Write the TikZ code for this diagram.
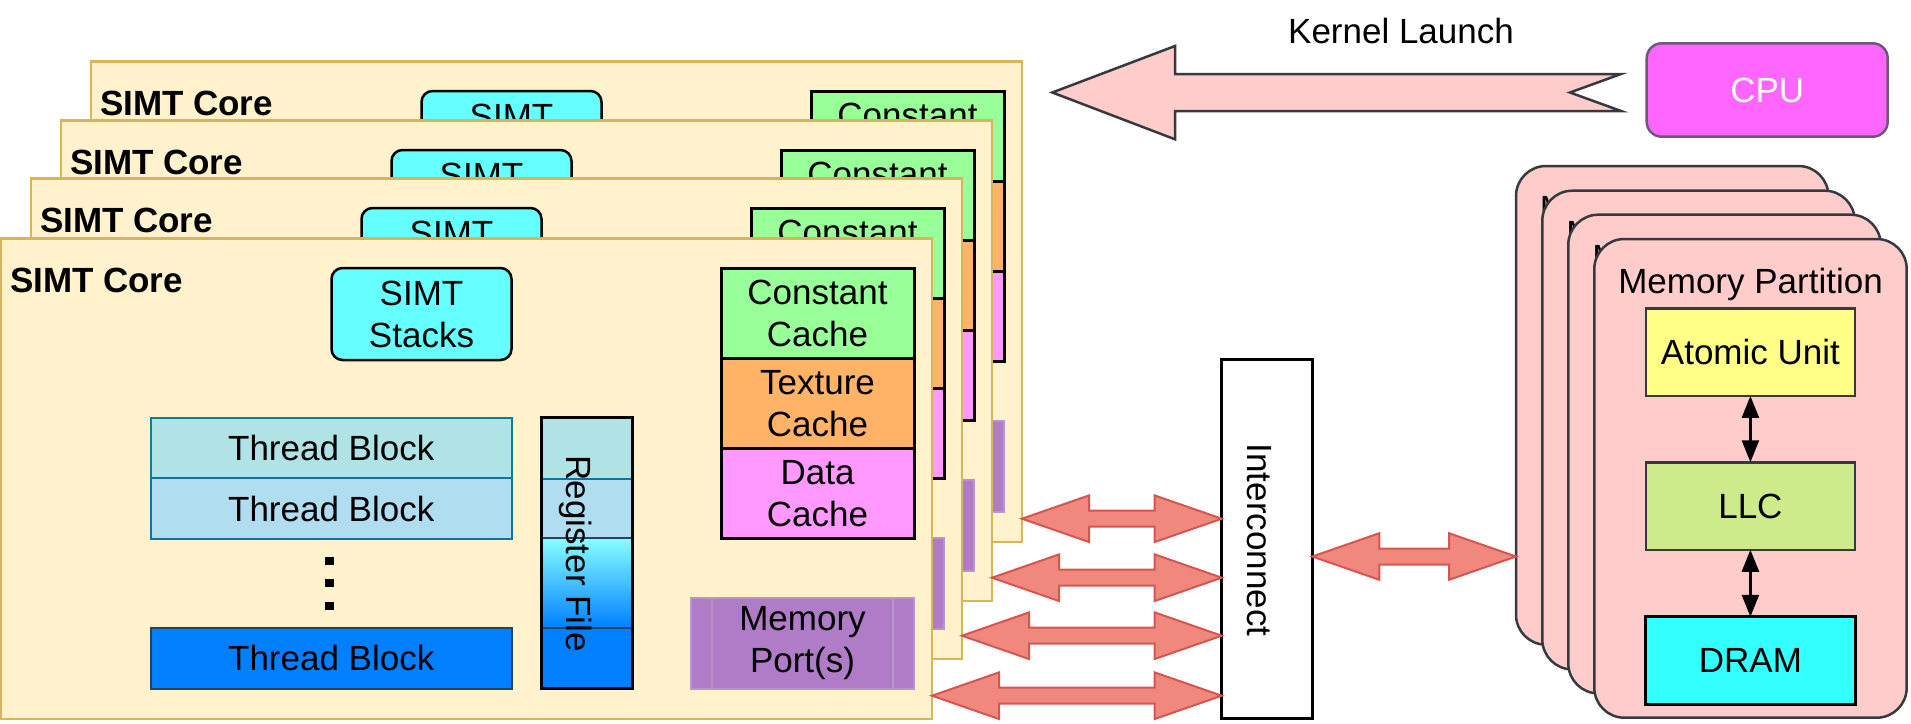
\documentclass[tikz,border=0pt]{standalone}
\usepackage{fontspec}
\setmainfont{Liberation Sans}
\usetikzlibrary{positioning,calc,arrows.meta}

\definecolor{coreline}{HTML}{D6B656}
\definecolor{corefill}{HTML}{FFF2CC}
\definecolor{stackfill}{HTML}{66FFFF}
\definecolor{constfill}{HTML}{99FF99}
\definecolor{texfill}{HTML}{FFB366}
\definecolor{datafill}{HTML}{FF99FF}
\definecolor{portfill}{HTML}{B07CC8}
\definecolor{portline}{HTML}{B995CC}
\definecolor{tbafill}{HTML}{B0E3E6}
\definecolor{tbaline}{HTML}{0E8088}
\definecolor{tbbfill}{HTML}{B1DDF0}
\definecolor{tbbline}{HTML}{10739E}
\definecolor{tbcfill}{HTML}{007FFF}
\definecolor{tbcline}{HTML}{23445D}
\definecolor{rftop}{HTML}{88FFFF}
\definecolor{linkfill}{HTML}{F0887E}
\definecolor{linkline}{HTML}{D65550}
\definecolor{partfill}{HTML}{FFCCCC}
\definecolor{darkline}{HTML}{36393D}
\definecolor{atomfill}{HTML}{FFFF88}
\definecolor{llcfill}{HTML}{CDEB8B}
\definecolor{dramfill}{HTML}{33FFFF}
\definecolor{cpufill}{HTML}{FF66FF}
\definecolor{cpuline}{HTML}{6E5878}

\newcommand{\showtext}[1]{\ifnum\k=0 #1\else\phantom{#1}\fi}

\newcommand{\dblink}[2]{%
        \draw[link] let \p1=(#1), \p2=(#2) in
        (\x1,\y1) -- (\x1+67pt,\y1+23.3pt) -- (\x1+67pt,\y1+8pt)
        -- (\x2-67pt,\y1+8pt) -- (\x2-67pt,\y1+23.3pt) -- (\x2,\y1)
        -- (\x2-67pt,\y1-23.3pt) -- (\x2-67pt,\y1-8pt)
        -- (\x1+67pt,\y1-8pt) -- (\x1+67pt,\y1-23.3pt) -- cycle;}

\begin{document}
\begin{tikzpicture}[x=1pt,y=-1pt,
        every node/.style={font=\fontsize{35}{42}\selectfont, inner sep=2pt, outer sep=0pt, align=center},
        core/.style={draw=coreline, fill=corefill, line width=2.5pt, minimum width=931pt, minimum height=480.5pt},
        coretitle/.style={font=\fontsize{35}{42}\selectfont\bfseries, anchor=base west, inner sep=0pt},
        stackbox/.style={draw, fill=stackfill, line width=2.5pt, rounded corners=11pt, minimum width=180pt, minimum height=92pt},
        cachebox/.style={draw, line width=3pt, minimum width=193pt, minimum height=90pt},
        membox/.style={draw=portline, fill=portfill, line width=2pt, minimum width=223.6pt, minimum height=91pt},
        blockbox/.style={line width=2pt, minimum width=360.5pt, minimum height=60.5pt},
        icbox/.style={draw, fill=white, line width=3pt, minimum width=90.6pt, minimum height=359.3pt},
        link/.style={draw=linkline, fill=linkfill, line width=2pt},
        partbox/.style={draw=darkline, fill=partfill, line width=2.5pt, rounded corners=30pt, minimum width=312.4pt, minimum height=478.7pt},
        unitbox/.style={draw=darkline, line width=2.5pt, minimum width=209.3pt, minimum height=87.5pt},
        cpubox/.style={draw=cpuline, fill=cpufill, line width=2.5pt, rounded corners=15pt, minimum width=241pt, minimum height=93.4pt, text=white},
        launch/.style={draw=darkline, fill=partfill, line width=2.5pt},
        biarrow/.style={line width=2.5pt, arrows={Triangle[length=22pt,width=17pt]-Triangle[length=22pt,width=17pt]}}]
        \useasboundingbox (0,0) rectangle (1911,723);
        \foreach \k/\dx/\dy in {3/90/-177, 2/60/-118, 1/30/-60, 0/0/0}{
        \begin{scope}[shift={(\dx,\dy)}]
        \node[core] (core\k) at (466.5,478.75) {};
        \node[coretitle] (title\k) at (10,292) {SIMT Core};
        \node[stackbox] (stack\k) at (421.5,314) {SIMT\\\showtext{Stacks}};
        \node[cachebox, fill=constfill] (const\k) at (817.5,313.3) {Constant\\\showtext{Cache}};
        \node[cachebox, fill=texfill, below=0pt of const\k] (tex\k) {\showtext{Texture}\\\showtext{Cache}};
        \node[cachebox, fill=datafill, below=0pt of tex\k] (data\k) {\showtext{Data}\\\showtext{Cache}};
        \node[membox] (mem\k) at (802.5,643.2) {\showtext{Memory}\\\showtext{Port(s)}};
        \draw[portline, line width=2pt] ([xshift=21.6pt]mem\k.north west) -- ([xshift=21.6pt]mem\k.south west)
                ([xshift=-21.6pt]mem\k.north east) -- ([xshift=-21.6pt]mem\k.south east);
        \end{scope}
        }
        \node[blockbox, draw=tbaline, fill=tbafill] (tb1) at (331.25,448) {Thread Block};
        \node[blockbox, draw=tbbline, fill=tbbfill, below=0pt of tb1] (tb2) {Thread Block};
        \node[blockbox, draw=tbcline, fill=tbcfill] (tb3) at (331.25,658.4) {Thread Block};
        \foreach \yy in {560.5,583,605.5}
                \fill (325.25,\yy-4) rectangle ++(8.5,8);
        \fill[tbafill] (541,417.5) rectangle (632,478.5);
        \fill[tbbfill] (541,478.5) rectangle (632,538);
        \shade[top color=rftop, bottom color=tbcfill] (541,538) rectangle (632,628.3);
        \fill[tbcfill] (541,628.3) rectangle (632,688.7);
        \draw[tbbline, line width=2pt] (541,478.5) -- (632,478.5);
        \draw[tbcline, line width=2pt] (541,538) -- (632,538) (541,628.3) -- (632,628.3);
        \node[draw, line width=3pt, minimum width=91pt, minimum height=271.2pt] (regfile) at (586.5,553.1) {};
        \node[rotate=-90] (rflabel) at (576,553.7) {Register File};
        \node[icbox] (ic) at (1267,538.7) {};
        \node[rotate=-90] (iclabel) at (1259.5,540) {Interconnect};
        \foreach \k in {0,...,3}{
        \coordinate (out\k) at ($(core\k.south east)+(0,-23.3)$);
        \dblink{out\k}{ic.west}
        }
        \foreach \k/\dx/\dy in {3/-78.3/-73, 2/-52/-48.3, 1/-26/-24.3, 0/0/0}{
        \begin{scope}[shift={(\dx,\dy)}]
        \node[partbox] (part\k) at (1750.5,478.35) {};
        \node[anchor=base] (ptitle\k) at (1750.5,293.3) {M\showtext{emory Partition}};
        \end{scope}
        }
        \node[unitbox, fill=atomfill] (atom) at (1750.4,352.2) {Atomic Unit};
        \node[unitbox, fill=llcfill] (llc) at (1750.4,506) {LLC};
        \node[unitbox, fill=dramfill, draw=black, line width=3pt] (dram) at (1750.4,660.5) {DRAM};
        \draw[biarrow] (atom) -- (llc);
        \draw[biarrow] (llc) -- (dram);
        \coordinate (icout) at ($(ic.east)+(0,17.8)$);
        \dblink{icout}{part3.west}
        \node[cpubox] (cpu) at (1767.2,90) {CPU};
        \coordinate (launchtip) at (1052.3,92.5);
        \draw[launch] let \p1=(launchtip), \p2=(cpu.west) in
        (\x1,\y1) -- (\x1+122.7pt,\y1+46.5pt) -- (\x1+122.7pt,\y1+18.5pt)
        -- (\x2-25.7pt,\y1+18.5pt) -- (\x2-76.7pt,\y1) -- (\x2-25.7pt,\y1-18.5pt)
        -- (\x1+122.7pt,\y1-18.5pt) -- (\x1+122.7pt,\y1-46.8pt) -- cycle;
        \node[anchor=base] (klabel) at (1401,43.3) {Kernel Launch};
\end{tikzpicture}
\end{document}
